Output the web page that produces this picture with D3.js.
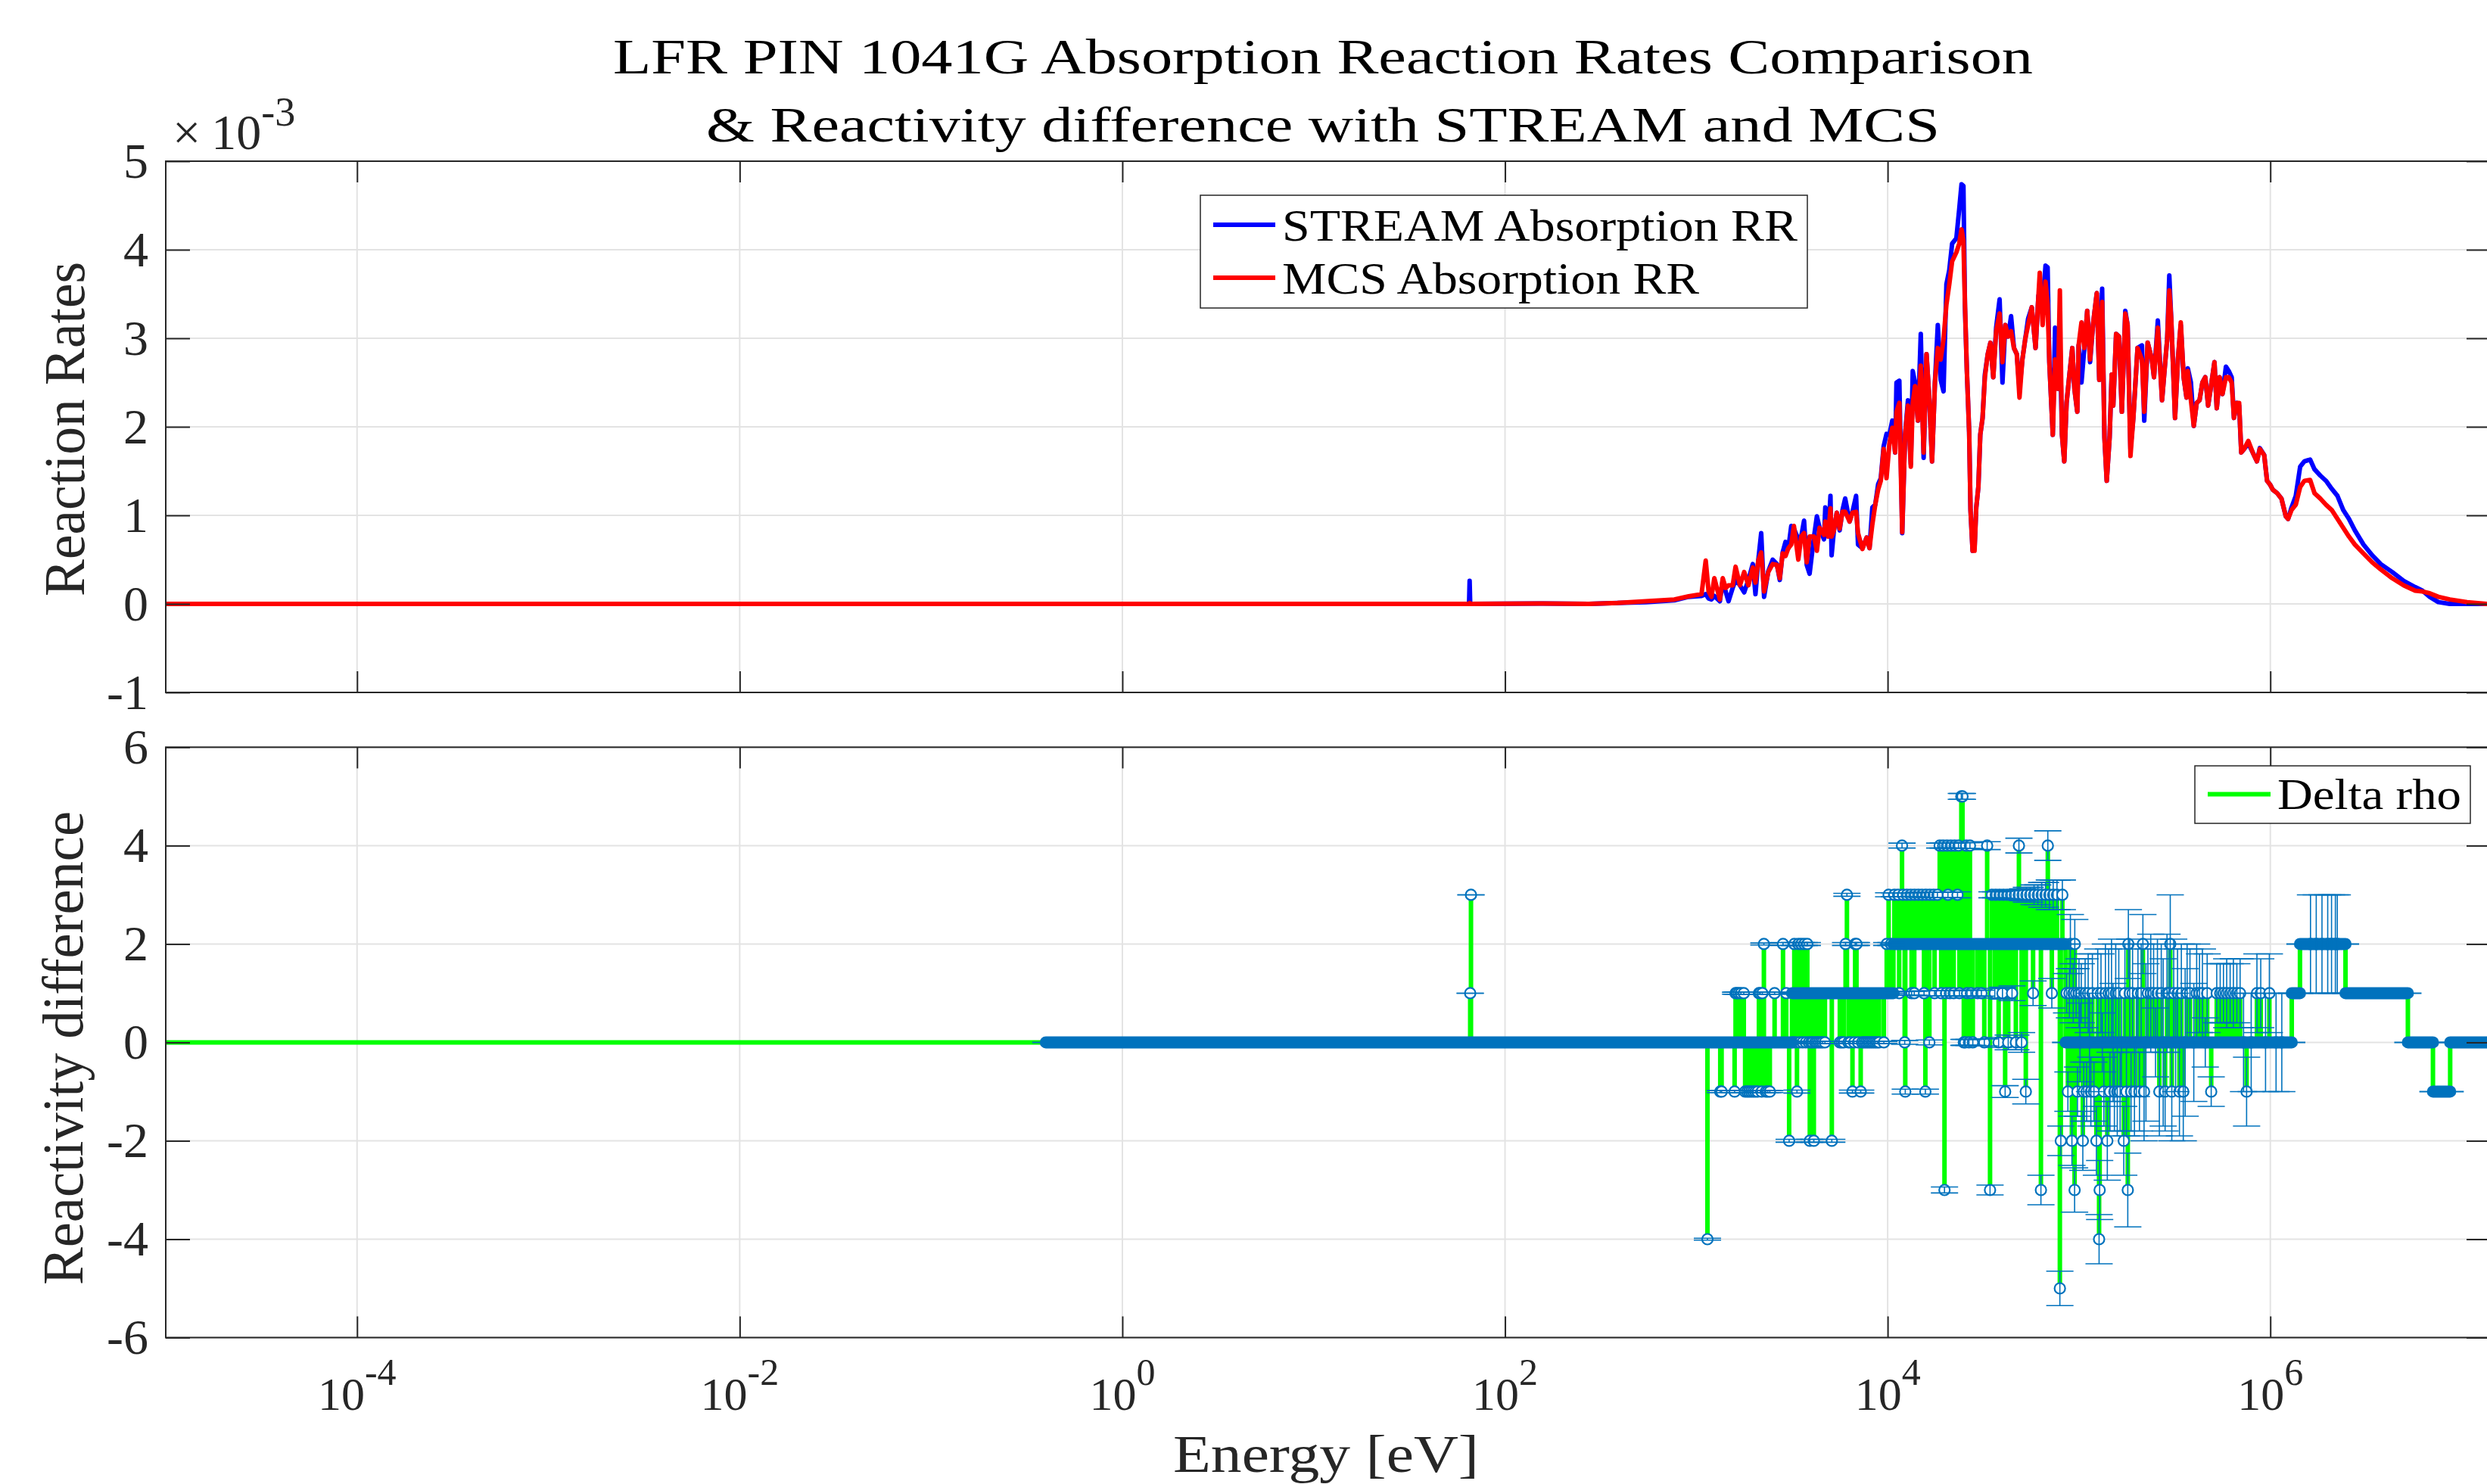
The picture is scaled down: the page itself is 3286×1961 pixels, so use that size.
<!DOCTYPE html>
<html>
<head>
<meta charset="utf-8">
<script src="https://cdn.jsdelivr.net/npm/d3@7"></script>
<style>
  html, body { margin: 0; padding: 0; background: #fff; }
  svg text { font-family: "Liberation Serif", "Times New Roman", serif; }
</style>
</head>
<body>
<div id="chart"></div>
<script>
// energy axis limits [eV]
const energyMin = 1e-5;
const energyMax = 1.42e7;

// top panel: absorption reaction rates (x1e-3), [log10(E/eV), STREAM, MCS]
const rrFlat = [
  [-5.0, 0, 0], [-0.45, 0, 0], [1.812, 0, 0], [1.815, 0.26, 0.01], [1.818, 0, 0],
  [2.2, 0.005, 0.005], [2.439, 0, 0]
];
const rrRise = [
  [2.588,0.01,0.01],[2.736,0.02,0.03],[2.885,0.04,0.05],[2.960,0.08,0.085],[3.027,0.09,0.11],
  [3.049,0.11,0.49],[3.064,0.06,0.14],[3.079,0.05,0.08],[3.094,0.09,0.29],[3.123,0.03,0.05],
  [3.138,0.27,0.29],[3.153,0.14,0.18],[3.168,0.03,0.21],[3.190,0.18,0.21],[3.205,0.27,0.42],
  [3.228,0.21,0.21],[3.250,0.13,0.36],[3.272,0.27,0.21],[3.295,0.45,0.41],[3.309,0.11,0.24],
  [3.324,0.50,0.49],[3.339,0.80,0.58],[3.354,0.08,0.14],[3.376,0.37,0.36],[3.399,0.50,0.45],
  [3.421,0.45,0.44],[3.436,0.27,0.29],[3.451,0.58,0.57],[3.466,0.70,0.54],[3.481,0.63,0.63],
  [3.496,0.88,0.67],[3.510,0.85,0.88],[3.533,0.73,0.50],[3.548,0.76,0.76],[3.563,0.94,0.80],
  [3.577,0.44,0.47],[3.592,0.34,0.76],[3.615,0.76,0.76],[3.630,0.99,0.60],[3.644,0.86,0.86],
  [3.667,0.73,0.78],[3.674,1.09,0.93],[3.689,0.76,0.76],[3.701,1.22,1.08],[3.707,0.55,0.76],
  [3.719,0.83,0.83],[3.734,1.03,1.03],[3.749,0.83,0.85],[3.764,1.06,1.04],[3.778,1.19,1.04],
  [3.801,0.93,0.93],[3.816,1.04,1.03],[3.835,1.22,1.04],[3.845,0.67,0.80],[3.868,0.63,0.62],
  [3.890,0.75,0.75],[3.905,0.63,0.63],[3.920,1.09,0.90],[3.935,1.12,1.12],[3.950,1.35,1.29],
  [3.964,1.42,1.39],[3.979,1.78,1.75],[3.994,1.92,1.42],[4.009,1.91,1.81],[4.024,2.07,1.99],
  [4.039,1.71,1.71],[4.046,2.50,2.17],[4.061,2.52,2.27],[4.076,0.80,0.81],[4.091,1.91,1.91],
  [4.106,2.30,2.24],[4.121,1.58,1.55],[4.131,2.63,2.27],[4.143,2.50,2.46],[4.158,2.07,2.07],
  [4.173,3.05,2.69],[4.188,1.65,1.71],[4.203,2.82,2.82],[4.218,2.30,2.30],[4.232,1.61,1.61],
  [4.247,2.50,2.50],[4.262,3.15,2.89],[4.277,2.53,2.76],[4.292,2.40,2.99],[4.307,3.61,3.38],
  [4.322,3.77,3.61],[4.337,4.07,3.87],[4.359,4.13,3.97],[4.374,4.46,4.07],[4.386,4.74,4.23],
  [4.396,4.72,4.10],[4.404,3.35,3.38],[4.414,2.63,2.63],[4.426,1.94,1.94],[4.433,1.06,1.06],
  [4.444,0.60,0.60],[4.454,0.63,0.60],[4.463,1.09,1.09],[4.474,1.32,1.32],[4.484,1.91,1.91],
  [4.496,2.10,2.10],[4.508,2.59,2.56],[4.523,2.82,2.82],[4.537,2.95,2.95],[4.552,2.56,2.56],
  [4.567,3.12,3.08],[4.585,3.44,3.28],[4.600,2.50,2.73],[4.615,3.15,3.15],[4.630,3.02,3.02],
  [4.645,3.25,3.08],[4.660,2.89,2.89],[4.675,2.82,2.82],[4.689,2.43,2.33],[4.704,2.76,2.76],
  [4.719,2.99,2.99],[4.734,3.22,3.15],[4.753,3.35,3.35]
];
const rrHigh = [
  [4.773,2.89,2.89],[4.788,3.48,3.48],[4.795,3.48,3.74],[4.810,3.38,3.15],[4.825,3.82,3.64],
  [4.836,3.80,3.38],[4.845,2.73,2.73],[4.863,1.91,1.91],[4.875,3.12,2.76],[4.890,2.43,2.43],
  [4.900,3.02,3.54],[4.911,1.91,1.91],[4.923,1.61,1.61],[4.935,2.27,2.27],[4.950,2.59,2.59],
  [4.965,2.89,2.89],[4.976,2.43,2.43],[4.991,2.17,2.17],[4.998,2.92,2.92],[5.013,2.50,3.18],
  [5.028,2.89,2.89],[5.043,3.31,3.31],[5.058,2.73,2.76],[5.073,3.15,3.15],[5.093,3.51,3.51],
  [5.106,2.53,2.53],[5.121,3.56,3.41],[5.133,1.88,1.88],[5.145,1.39,1.39],[5.160,1.88,1.88],
  [5.171,2.59,2.59],[5.179,2.24,2.24],[5.194,3.05,3.05],[5.209,3.02,3.02],[5.224,2.17,2.17],
  [5.242,3.31,3.28],[5.254,3.15,3.15],[5.269,1.75,1.67],[5.284,2.10,2.10],[5.306,2.89,2.89],
  [5.329,2.92,2.76],[5.341,2.07,2.17],[5.359,2.95,2.95],[5.381,2.76,2.76],[5.392,2.56,2.56],
  [5.412,3.20,3.12],[5.434,2.30,2.30],[5.449,2.69,2.69],[5.461,2.99,2.99],[5.472,3.71,3.54],
  [5.482,3.22,3.22],[5.502,2.10,2.10],[5.517,2.76,2.76],[5.532,3.15,3.18],[5.547,2.56,2.56],
  [5.562,2.33,2.33],[5.569,2.66,2.63],[5.585,2.50,2.30],[5.600,2.01,2.01],[5.615,2.27,2.27],
  [5.630,2.30,2.30],[5.645,2.50,2.50],[5.660,2.56,2.56],[5.675,2.24,2.24],[5.690,2.46,2.46],
  [5.708,2.73,2.73],[5.720,2.21,2.21],[5.735,2.56,2.56],[5.750,2.37,2.37],[5.768,2.68,2.56],
  [5.783,2.63,2.56],[5.798,2.56,2.50],[5.810,2.10,2.10],[5.825,2.27,2.27],[5.837,2.24,2.27],
  [5.848,1.71,1.71],[5.863,1.75,1.75],[5.885,1.81,1.84],[5.908,1.71,1.71],[5.930,1.61,1.61],
  [5.945,1.76,1.75],[5.968,1.68,1.68],[5.983,1.39,1.39],[5.998,1.35,1.35],[6.013,1.29,1.29],
  [6.036,1.25,1.25],[6.058,1.19,1.19],[6.081,0.99,0.99],[6.093,0.96,0.96],[6.111,1.09,1.06],
  [6.133,1.22,1.12],[6.156,1.55,1.32],[6.178,1.61,1.39],[6.208,1.63,1.40],[6.231,1.52,1.25],
  [6.261,1.45,1.19],[6.291,1.39,1.12],[6.321,1.30,1.06],[6.351,1.22,0.96],[6.381,1.06,0.86],
  [6.411,0.96,0.76],[6.442,0.83,0.67],[6.487,0.67,0.57],[6.532,0.55,0.47],[6.577,0.45,0.39],
  [6.637,0.36,0.29],[6.697,0.26,0.21],[6.757,0.19,0.15],[6.795,0.15,0.14],[6.833,0.08,0.12],
  [6.878,0.02,0.08],[6.938,0.0,0.05],[7.028,0.0,0.02],[7.130,0.0,0.0],[7.16,0.0,0.0]
];

// bottom panel: reactivity difference
const rhoStartEnergy = 1e-5;
// runs of consecutive groups with one value: [log10 E from, log10 E to, delta rho]
const rhoRuns = [
  [-0.40, 3.50, 0], [3.50, 4.03, 1], [4.03, 4.93, 2],
  [4.93, 6.112, 0], [6.112, 6.155, 1], [6.155, 6.393, 2], [6.393, 6.719, 1],
  [6.719, 6.850, 0], [6.850, 6.940, -1], [6.940, 7.16, 0]
];
// single groups inside the runs: [log10 E, delta rho, error]
const rhoZoneA = [
  [1.818,1,0],[1.822,3,0],
  [3.058,-4,0.02],[3.125,-1,0.02],[3.132,-1,0.02],[3.200,-1,0.02],[3.205,1,0.02],[3.212,1,0.02],
  [3.222,1,0.02],[3.233,1,0.02],[3.248,1,0.02],[3.255,-1,0.02],[3.266,-1,0.02],[3.276,-1,0.02],
  [3.287,-1,0.02],[3.298,-1,0.02],[3.309,-1,0.02],[3.320,-1,0.02],[3.327,1,0.02],[3.334,1,0.02],
  [3.341,-1,0.02],[3.345,1,0.02],[3.353,2,0.02],[3.363,-1,0.02],[3.373,-1,0.02],[3.384,-1,0.02],
  [3.409,1,0.02],[3.453,2,0.03],[3.470,1,0.02],[3.485,-2,0.03]
];
const rhoZoneB = [
  [3.505,0,0.02],[3.512,2,0.03],[3.519,0,0.02],[3.526,-1,0.03],[3.533,2,0.03],[3.540,0,0.02],
  [3.548,2,0.03],[3.556,0,0.02],[3.564,2,0.03],[3.572,0,0.02],[3.580,2,0.03],[3.588,0,0.02],
  [3.593,-2,0.03],[3.600,0,0.02],[3.608,0,0.02],[3.614,-2,0.03],[3.621,0,0.02],[3.630,0,0.02],
  [3.640,0,0.02],[3.650,0,0.02],[3.660,0,0.02],[3.672,0,0.02],[3.708,-2,0.03],[3.750,0,0.02],
  [3.760,0,0.02],[3.770,0,0.02],[3.780,2,0.03],[3.787,3,0.03],[3.795,0,0.02],[3.805,0,0.02],
  [3.816,-1,0.03],[3.825,0,0.02],[3.830,2,0.03],[3.837,2,0.03],[3.845,0,0.02],[3.859,-1,0.03],
  [3.866,0,0.02],[3.876,0,0.02],[3.886,0,0.02],[3.896,0,0.02],[3.906,0,0.02],[3.916,0,0.02],
  [3.926,0,0.02],[3.936,0,0.02],[3.946,0,0.02],[3.955,0,0.02],[3.980,0,0.02],[3.995,2,0.03],
  [4.005,3,0.04],[4.017,2,0.03]
];
const rhoZoneC = [
  [4.035,3,0.04],[4.055,3,0.04],[4.060,1,0.04],[4.075,4,0.05],[4.080,3,0.04],[4.089,0,0.04],
  [4.092,-1,0.05],[4.100,3,0.04],[4.120,3,0.04],[4.125,1,0.04],[4.139,1,0.04],[4.140,3,0.04],
  [4.160,3,0.05],[4.180,3,0.05],[4.190,1,0.05],[4.197,-1,0.05],[4.200,3,0.05],[4.218,0,0.05],
  [4.220,3,0.05],[4.240,3,0.05],[4.245,1,0.05],[4.260,3,0.05]
];
const rhoZoneD = [
  [4.272,4,0.05],[4.280,1,0.05],[4.290,4,0.05],[4.297,-3,0.06],[4.305,1,0.05],[4.310,4,0.05],
  [4.315,3,0.05],[4.325,1,0.05],[4.330,4,0.05],[4.345,1,0.05],[4.350,4,0.06],[4.365,3,0.06],
  [4.370,4,0.06],[4.375,1,0.06],[4.385,5,0.06],[4.391,5,0.06],[4.398,0,0.06],[4.405,0,0.06],
  [4.410,4,0.06],[4.415,1,0.06],[4.425,0,0.06],[4.430,4,0.06],[4.435,1,0.06],[4.445,0,0.06]
];
const rhoZoneE = [
  [4.470,1,0.06],[4.490,1,0.06],[4.505,0,0.07],[4.520,4,0.08],[4.535,-3,0.1],[4.545,3,0.06],
  [4.560,1,0.1],[4.565,3,0.06],[4.580,0,0.1],[4.585,3,0.07],[4.600,1,0.12],[4.605,3,0.08],
  [4.614,-1,0.12],[4.625,3,0.08],[4.630,0,0.15],[4.645,3,0.09],[4.650,1,0.15],[4.665,3,0.1],
  [4.670,0,0.15],[4.685,3,0.1],[4.686,4,0.15],[4.700,0,0.2],[4.705,3,0.12],[4.722,-1,0.25],
  [4.725,3,0.15],[4.745,3,0.15],[4.760,1,0.25],[4.765,3,0.2],[4.785,3,0.2],[4.801,-3,0.3],
  [4.805,3,0.25],[4.825,3,0.25],[4.837,4,0.3],[4.845,3,0.3],[4.858,1,0.3],[4.865,3,0.3],
  [4.885,3,0.3],[4.900,-5,0.35],[4.905,-2,0.3],[4.913,3,0.3]
];
const rhoZoneF = [
  [4.935,1,0.4],[4.942,-1,0.4],[4.950,1,0.5],[4.955,2,0.6],[4.963,-2,0.5],[4.970,1,0.6],
  [4.977,-3,0.45],[4.978,2,0.5],[4.985,1,0.5],[4.992,-1,0.5],[5.000,1,0.7],[5.005,0,0.8],
  [5.012,1,0.6],[5.020,-2,0.6],[5.025,-1,0.6],[5.032,1,0.7],[5.040,-1,0.6],[5.048,1,0.8],
  [5.055,0,1.0],[5.062,-1,0.7],[5.070,1,0.8],[5.078,-1,0.6],[5.091,-2,0.7],[5.098,1,0.9],
  [5.105,-4,0.5],[5.108,-3,0.6],[5.115,1,0.8],[5.122,0,0.6],[5.130,-1,0.7],[5.138,1,1.0],
  [5.148,-2,0.8],[5.155,1,0.9],[5.162,-1,0.8],[5.170,1,1.1],[5.178,0,1.2],[5.185,-1,0.8],
  [5.192,1,1.0],[5.200,-1,0.9],[5.208,1,0.9],[5.215,-1,0.8],[5.222,0,0.9],[5.234,-2,0.7],
  [5.240,1,1.0],[5.248,-1,0.9],[5.255,-3,0.75],[5.258,2,0.7],[5.265,1,1.1],[5.272,-1,0.8],
  [5.280,1,1.0],[5.290,-1,0.9],[5.300,0,1.1],[5.308,1,0.9],[5.316,-1,0.8],[5.325,1,1.0],
  [5.334,2,0.6],[5.340,-1,1.0],[5.350,0,1.6],[5.360,1,0.9],[5.375,1,1.2],[5.390,1,1.0],
  [5.400,0,0.7],[5.410,1,1.1],[5.420,-1,0.9],[5.430,1,1.0],[5.440,0,1.7],[5.450,-1,0.8],
  [5.460,1,1.2],[5.470,1,0.9],[5.477,2,1.0],[5.485,-1,1.0],[5.495,1,1.1],[5.505,0,1.0],
  [5.515,1,0.9],[5.525,-1,0.9],[5.535,1,1.0],[5.545,-1,1.0],[5.555,0,1.5],[5.565,1,1.0],
  [5.580,1,0.9],[5.600,0,1.2],[5.615,1,1.0],[5.630,1,0.8],[5.645,1,0.9],[5.660,0,0.5],
  [5.670,1,0.8],[5.691,-1,0.3],[5.720,1,0.6],[5.738,1,0.6],[5.755,1,0.6],[5.772,1,0.7],
  [5.790,1,0.6],[5.807,1,0.7],[5.825,1,0.6],[5.842,1,0.7],[5.860,0,1.0],[5.876,-1,0.7],
  [5.900,0,1.0],[5.930,1,0.8],[5.950,1,0.7],[5.975,0,1.0],[5.995,1,0.8],[6.030,0,1.0],
  [6.060,0,1.0]
];
const rhoZoneG = [
  [6.21,2,1],[6.24,2,1],[6.27,2,1],[6.30,2,1],[6.32,2,1],[6.34,2,1],[6.35,2,1]
];

const xTickExponents = [-4, -2, 0, 2, 4, 6];
const rrTicks = [-1, 0, 1, 2, 3, 4, 5];
const rhoTicks = [-6, -4, -2, 0, 2, 4, 6];

const titleLines = ["LFR PIN 1041G Absorption Reaction Rates Comparison",
                    "& Reactivity difference with STREAM and MCS"];

// ------------------------------------------------------------------
const W = 3286, H = 1961;
const left = 219, right = 3291;
const axisColor = "#262626", gridColor = "#e3e3e3";
const ebColor = "#0072BD";

const svg = d3.select("#chart").append("svg")
  .attr("width", W).attr("height", H)
  .style("background", "#fff");

const x = d3.scaleLog().domain([energyMin, energyMax]).range([left, right]);
const yTop = d3.scaleLinear().domain([-1, 5]).range([915, 213]);
const yBot = d3.scaleLinear().domain([-6, 6]).range([1767.5, 987.4]);
const xTicks = xTickExponents.map(e => Math.pow(10, e));
const xl = le => x(Math.pow(10, le));

function panel(id, y, ticks) {
  const [y0, y1] = y.range();
  const g = svg.append("g");
  svg.append("clipPath").attr("id", id).append("rect")
    .attr("x", left).attr("y", y1).attr("width", right - left).attr("height", y0 - y1);

  // grid
  g.selectAll(".gx").data(xTicks).join("line")
    .attr("x1", d => x(d)).attr("x2", d => x(d)).attr("y1", y1).attr("y2", y0)
    .attr("stroke", gridColor).attr("stroke-width", 2);
  g.selectAll(".gy").data(ticks).join("line")
    .attr("x1", left).attr("x2", right).attr("y1", d => y(d)).attr("y2", d => y(d))
    .attr("stroke", gridColor).attr("stroke-width", 2);

  const data = svg.append("g").attr("clip-path", `url(#${id})`);

  const axes = svg.append("g");
  const style = sel => {
    sel.select(".domain").remove();
    sel.selectAll("line").attr("stroke", axisColor).attr("stroke-width", 2);
    sel.selectAll("text").attr("fill", axisColor).attr("font-size", 66)
      .attr("font-family", "Liberation Serif");
  };
  axes.append("g").attr("transform", `translate(${left},0)`)
    .call(d3.axisLeft(y).tickValues(ticks).tickSize(-32).tickPadding(23).tickFormat(d => String(d)))
    .call(style);
  axes.append("g").attr("transform", `translate(${right},0)`)
    .call(d3.axisRight(y).tickValues(ticks).tickSize(-32).tickFormat(""))
    .call(style);
  axes.append("g").attr("transform", `translate(0,${y0})`)
    .call(d3.axisBottom(x).tickValues(xTicks).tickSize(-28).tickFormat(""))
    .call(style);
  axes.append("g").attr("transform", `translate(0,${y1})`)
    .call(d3.axisTop(x).tickValues(xTicks).tickSize(-28).tickFormat(""))
    .call(style);
  axes.append("rect").attr("x", left).attr("y", y1)
    .attr("width", right - left).attr("height", y0 - y1)
    .attr("fill", "none").attr("stroke", axisColor).attr("stroke-width", 2);
  return { data, axes };
}

// ---------------- top panel ----------------
const topPanel = panel("clipTop", yTop, rrTicks);
const rr = rrFlat.concat(rrRise, rrHigh);
const rrLine = idx => d3.line().x(d => xl(d[0])).y(d => yTop(d[idx]));
topPanel.data.append("path").datum(rr).attr("d", rrLine(1))
  .attr("fill", "none").attr("stroke", "#0000ff").attr("stroke-width", 6)
  .attr("stroke-linejoin", "round");
topPanel.data.append("path").datum(rr).attr("d", rrLine(2))
  .attr("fill", "none").attr("stroke", "#ff0000").attr("stroke-width", 6)
  .attr("stroke-linejoin", "round");

// exponent label
svg.append("text").attr("x", 228).attr("y", 197).attr("font-size", 66).attr("fill", axisColor)
  .call(t => {
    t.append("tspan").text("\u00d7");
    t.append("tspan").attr("dx", 14).text("10");
    t.append("tspan").attr("dy", -31).attr("font-size", 54).text("-3");
  });

// legend top
const lg1 = svg.append("g");
lg1.append("rect").attr("x", 1586).attr("y", 258).attr("width", 802).attr("height", 149)
  .attr("fill", "#fff").attr("stroke", axisColor).attr("stroke-width", 1.5);
[["STREAM Absorption RR", "#0000ff", 297, 318, 681], ["MCS Absorption RR", "#ff0000", 367, 388, 551]]
  .forEach(([label, c, ly, ty, len]) => {
    lg1.append("line").attr("x1", 1603).attr("x2", 1685).attr("y1", ly).attr("y2", ly)
      .attr("stroke", c).attr("stroke-width", 6);
    lg1.append("text").attr("x", 1694).attr("y", ty).attr("font-size", 60)
      .attr("textLength", len).attr("lengthAdjust", "spacingAndGlyphs").text(label);
  });

// ---------------- bottom panel ----------------
const botPanel = panel("clipBot", yBot, rhoTicks);
const spikes = rhoZoneA.concat(rhoZoneB, rhoZoneC, rhoZoneD, rhoZoneE, rhoZoneF, rhoZoneG)
  .map(([e, v, err]) => ({ e, v, err }));

// green line through every group in energy order
const linePts = [[Math.log10(rhoStartEnergy), 0]];
rhoRuns.forEach(([a, b, v]) => {
  linePts.push([a, v]);
  spikes.filter(s => s.e >= a && s.e < b).sort((p, q) => p.e - q.e)
    .forEach(s => linePts.push([s.e, v], [s.e, s.v], [s.e, v]));
  linePts.push([b, v]);
});
botPanel.data.append("path").datum(linePts)
  .attr("d", d3.line().x(d => xl(d[0])).y(d => yBot(d[1])))
  .attr("fill", "none").attr("stroke", "#00ff00").attr("stroke-width", 6)
  .attr("stroke-linejoin", "round");

// markers of single groups
botPanel.data.selectAll(".mk").data(spikes).join("circle")
  .attr("cx", d => xl(d.e)).attr("cy", d => yBot(d.v)).attr("r", 7)
  .attr("fill", "#fff").attr("stroke", ebColor).attr("stroke-width", 2.2);

// dense runs of markers
botPanel.data.selectAll(".run").data(rhoRuns).join("line")
  .attr("x1", d => xl(d[0])).attr("x2", d => xl(d[1]))
  .attr("y1", d => yBot(d[2])).attr("y2", d => yBot(d[2]))
  .attr("stroke", ebColor).attr("stroke-width", 16).attr("stroke-linecap", "round");
botPanel.data.selectAll(".runcap").data(rhoRuns).join("line")
  .attr("x1", d => xl(d[0]) - 18).attr("x2", d => xl(d[1]) + 18)
  .attr("y1", d => yBot(d[2])).attr("y2", d => yBot(d[2]))
  .attr("stroke", ebColor).attr("stroke-width", 2);

// error bars
const eb = botPanel.data.append("g").attr("stroke", ebColor).attr("stroke-width", 1.6);
eb.selectAll(".v").data(spikes.filter(d => d.err > 0)).join("line")
  .attr("x1", d => xl(d.e)).attr("x2", d => xl(d.e))
  .attr("y1", d => yBot(d.v - d.err)).attr("y2", d => yBot(d.v + d.err));
eb.selectAll(".c").data(spikes.flatMap(d => [[d.e, d.v - d.err], [d.e, d.v + d.err]])).join("line")
  .attr("x1", d => xl(d[0]) - 18).attr("x2", d => xl(d[0]) + 18)
  .attr("y1", d => yBot(d[1])).attr("y2", d => yBot(d[1]));

// x tick labels
xTickExponents.forEach(e => {
  svg.append("text").attr("x", x(Math.pow(10, e))).attr("y", 1863)
    .attr("text-anchor", "middle").attr("font-size", 62).attr("fill", axisColor)
    .call(t => {
      t.append("tspan").text("10");
      t.append("tspan").attr("dy", -33).attr("font-size", 50).text(String(e));
    });
});

// legend bottom
const lg2 = svg.append("g");
lg2.append("rect").attr("x", 2900).attr("y", 1012).attr("width", 364).attr("height", 76)
  .attr("fill", "#fff").attr("stroke", axisColor).attr("stroke-width", 1.5);
lg2.append("line").attr("x1", 2917).attr("x2", 3000).attr("y1", 1049.5).attr("y2", 1049.5)
  .attr("stroke", "#00ff00").attr("stroke-width", 6);
lg2.append("text").attr("x", 3009).attr("y", 1069).attr("font-size", 58)
  .attr("textLength", 243).attr("lengthAdjust", "spacingAndGlyphs").text("Delta rho");

// axis labels
svg.append("text").attr("x", 1752).attr("y", 1945).attr("text-anchor", "middle")
  .attr("font-size", 70).attr("fill", axisColor)
  .attr("textLength", 404).attr("lengthAdjust", "spacingAndGlyphs").text("Energy [eV]");
svg.append("text").attr("transform", "translate(111,567) rotate(-90)").attr("text-anchor", "middle")
  .attr("font-size", 76).attr("fill", axisColor)
  .attr("textLength", 442).attr("lengthAdjust", "spacingAndGlyphs").text("Reaction Rates");
svg.append("text").attr("transform", "translate(109,1385) rotate(-90)").attr("text-anchor", "middle")
  .attr("font-size", 76).attr("fill", axisColor)
  .attr("textLength", 626).attr("lengthAdjust", "spacingAndGlyphs").text("Reactivity difference");

// title
[[titleLines[0], 97, 1876], [titleLines[1], 187, 1630]].forEach(([s, ty, len]) => {
  svg.append("text").attr("x", 1748).attr("y", ty).attr("text-anchor", "middle")
    .attr("font-size", 66).attr("fill", "#000")
    .attr("textLength", len).attr("lengthAdjust", "spacingAndGlyphs").text(s);
});
</script>
</body>
</html>
